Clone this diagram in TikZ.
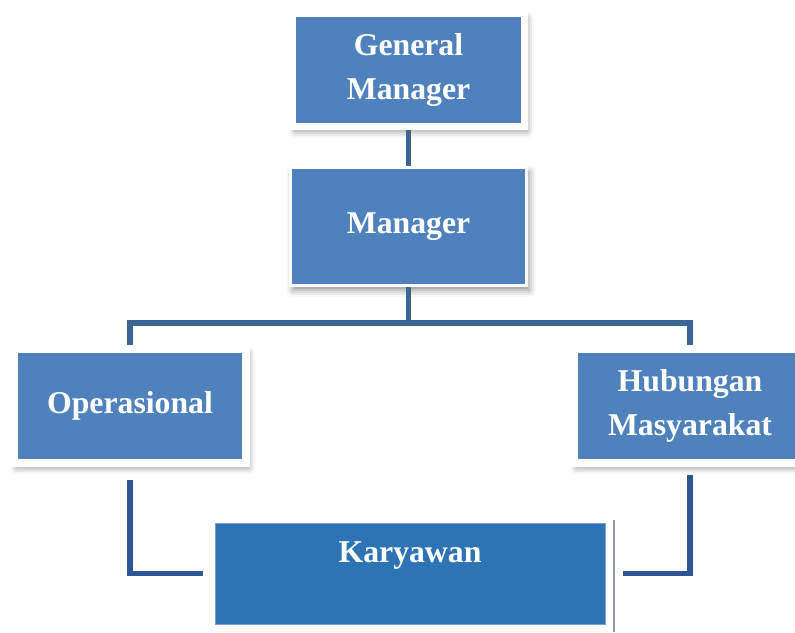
\documentclass[tikz,border=0pt]{standalone}
\usepackage{fontspec}
\setmainfont{Liberation Serif}
\usetikzlibrary{shadows.blur}
\definecolor{boxblue}{RGB}{79,129,189}
\definecolor{staffblue}{RGB}{46,116,181}
\definecolor{staffedge}{RGB}{120,160,210}
\definecolor{linkupper}{RGB}{58,101,148}
\definecolor{linklower}{RGB}{47,85,151}
\definecolor{strayline}{RGB}{140,150,175}

\begin{document}
\begin{tikzpicture}[
    x=0.75pt, y=-0.75pt,
    unitbox/.style={rectangle, fill=boxblue, draw=white, inner sep=0pt,
        text=white, align=center, font=\fontsize{23.8}{33.5}\selectfont\bfseries,
        blur shadow={shadow xshift=2pt, shadow yshift=-3.5pt,
            shadow blur radius=5pt, shadow opacity=45}},
    staffbox/.style={rectangle, fill=staffblue, draw=staffedge, line width=0.75pt,
        inner sep=0pt, text=white, font=\fontsize{23.8}{33.5}\selectfont\bfseries},
    upperlink/.style={draw=linkupper, line width=3.8pt},
    lowerlink/.style={draw=linklower, line width=4pt}
]
    % canvas of the reference
    \useasboundingbox (0,0) rectangle (795,632);

    % boxes
    \node[unitbox, line width=5.25pt, minimum width=174pt, minimum height=84.75pt]
        (gm) at (408.5,70) {General\\Manager};
    \node[unitbox, line width=2.6pt, minimum width=177pt, minimum height=88.5pt]
        (mgr) at (408.5,226.5) {Manager};
    \node[unitbox, line width=6pt, minimum width=174pt, minimum height=85.5pt]
        (ops) at (130,406) {Operasional};
    \node[unitbox, line width=6pt, minimum width=174pt, minimum height=85.5pt]
        (hum) at (690,406) {Hubungan\\Masyarakat};
    \node[staffbox, minimum width=292.5pt, minimum height=75.75pt,
          text height=17pt, text depth=34.25pt]
        (kar) at (410,573.5) {Karyawan};

    % upper connectors
    \coordinate (bar) at (408.5,323);
    \draw[upperlink] (gm.south) -- (gm.south |- mgr.north);
    \draw[upperlink] (mgr.south) -- (bar);
    \draw[upperlink] (ops.north) |- (bar) -| (hum.north);

    % lower connectors, not touching the boxes
    \draw[lowerlink, shorten <=9.75pt, shorten >=8.6pt] (ops.south) |- (kar.west);
    \draw[lowerlink, shorten <=6pt, shorten >=13pt] (hum.south) |- (kar.east);

    % thin line right of Karyawan
    \coordinate (edgetop) at (614,520);
    \coordinate (edgebot) at (614,632);
    \draw[strayline, line width=1.5pt] (edgetop) -- (edgebot);
\end{tikzpicture}
\end{document}
